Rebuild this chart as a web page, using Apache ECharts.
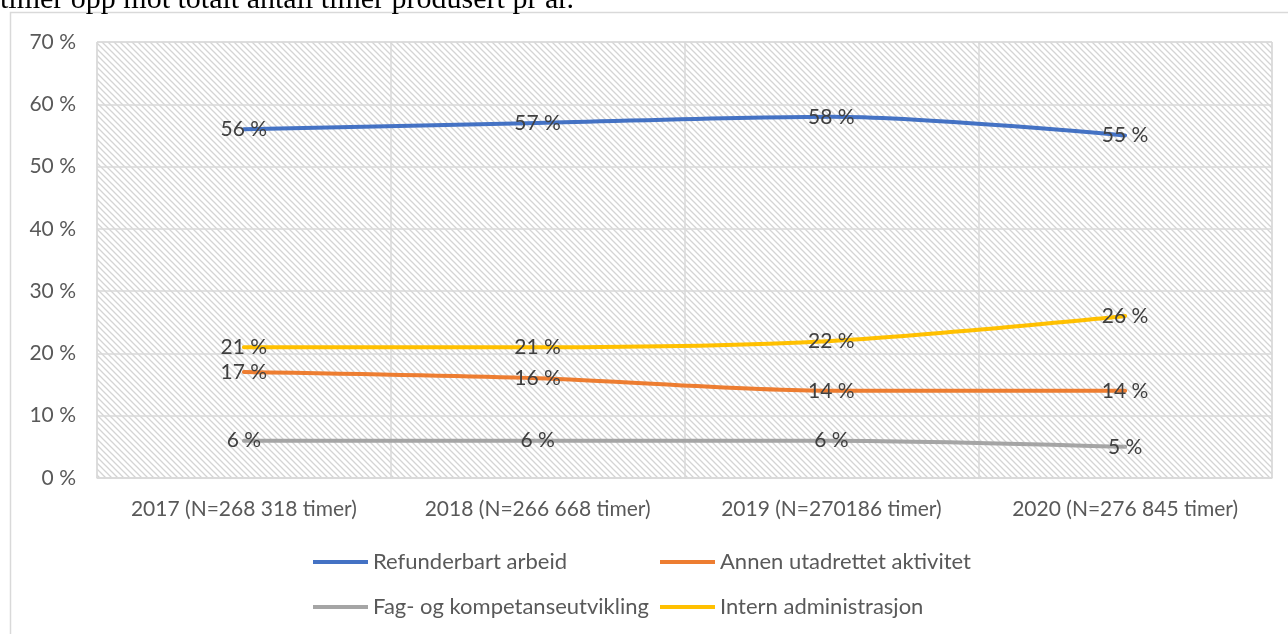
<!DOCTYPE html>
<html>
<head>
<meta charset="utf-8">
<script src="https://cdn.jsdelivr.net/npm/echarts@6/dist/echarts.min.js"></script>
<style>
    html, body { margin: 0; padding: 0; background: #fff; }
    #main { width: 1288px; height: 634px; }
</style>
</head>
<body>
<div id="main"></div>
<script>
// data
var categories = ['2017 (N=268 318 timer)', '2018 (N=266 668 timer)', '2019 (N=270186 timer)', '2020 (N=276 845 timer)'];
var refunderbart = [56, 57, 58, 55];
var annen = [17, 16, 14, 14];
var fagKompetanse = [6, 6, 6, 5];
var internAdmin = [21, 21, 22, 26];
var seriesNames = ['Refunderbart arbeid', 'Annen utadrettet aktivitet', 'Fag- og kompetanseutvikling', 'Intern administrasjon'];
var colors = ['#4472C4', '#ED7D31', '#A5A5A5', '#FFC000'];

var FONT = 'Lato';
var FS = 21;

// hatched fill for the plot area
var hatch = document.createElement('canvas');
hatch.width = 6;
hatch.height = 6;
var hctx = hatch.getContext('2d');
hctx.fillStyle = '#ffffff';
hctx.fillRect(0, 0, 6, 6);
hctx.strokeStyle = '#d4d4d4';
hctx.lineWidth = 1.3;
hctx.beginPath();
hctx.moveTo(-1, -1); hctx.lineTo(7, 7);
hctx.moveTo(-4, 2); hctx.lineTo(4, 10);
hctx.moveTo(2, -4); hctx.lineTo(10, 4);
hctx.stroke();

function makeSeries (name, data, color) {
    return {
        name: name,
        type: 'line',
        data: data,
        smooth: 0.3,
        symbol: 'circle',
        symbolSize: 0.1,
        showSymbol: true,
        lineStyle: { width: 4, color: color, cap: 'round' },
        itemStyle: { color: color },
        label: {
            show: true,
            position: 'inside',
            formatter: '{c} %',
            color: '#404040',
            fontFamily: FONT,
            fontSize: FS
        },
        z: 3
    };
}

var legendText = { color: '#595959', fontFamily: FONT, fontSize: 22 };

var myChart = echarts.init(document.getElementById('main'));
var option = {
    animation: false,
    color: colors,
    graphic: [
        {
            type: 'rect',
            shape: { x: 10.5, y: 12.5, width: 1300, height: 700 },
            style: { fill: 'none', stroke: '#d9d9d9', lineWidth: 1.5 },
            silent: true
        },
        {
            type: 'text',
            x: 0,
            y: -15,
            style: {
                text: 'timer opp mot totalt antall timer produsert pr år.',
                font: '30px "Liberation Serif"',
                fill: '#000'
            }
        }
    ],
    grid: {
        left: 97,
        right: 16,
        top: 42,
        bottom: 156,
        show: true,
        backgroundColor: { image: hatch, repeat: 'repeat' },
        borderColor: '#d9d9d9',
        borderWidth: 1
    },
    legend: [
        {
            orient: 'vertical',
            left: 313,
            top: 551,
            padding: 0,
            itemWidth: 55,
            itemHeight: 4,
            itemGap: 23,
            icon: 'rect',
            data: [seriesNames[0], seriesNames[2]],
            textStyle: legendText
        },
        {
            orient: 'vertical',
            left: 660,
            top: 551,
            padding: 0,
            itemWidth: 55,
            itemHeight: 4,
            itemGap: 23,
            icon: 'rect',
            data: [seriesNames[1], seriesNames[3]],
            textStyle: legendText
        }
    ],
    xAxis: {
        type: 'category',
        data: categories,
        boundaryGap: true,
        axisLine: { show: true, lineStyle: { color: '#d9d9d9', width: 1.5 } },
        axisTick: { show: false },
        splitLine: { show: true, lineStyle: { color: '#d9d9d9', width: 1.5 } },
        axisLabel: {
            color: '#595959',
            fontFamily: FONT,
            fontSize: FS,
            margin: 21,
            interval: 0
        }
    },
    yAxis: {
        type: 'value',
        min: 0,
        max: 70,
        interval: 10,
        axisLine: { show: false },
        axisTick: { show: false },
        splitLine: { show: true, lineStyle: { color: '#d9d9d9', width: 1.5 } },
        axisLabel: {
            color: '#595959',
            fontFamily: FONT,
            fontSize: FS,
            margin: 21,
            formatter: '{value} %'
        }
    },
    series: [
        makeSeries(seriesNames[0], refunderbart, colors[0]),
        makeSeries(seriesNames[1], annen, colors[1]),
        makeSeries(seriesNames[2], fagKompetanse, colors[2]),
        makeSeries(seriesNames[3], internAdmin, colors[3])
    ]
};
myChart.setOption(option);
</script>
</body>
</html>
